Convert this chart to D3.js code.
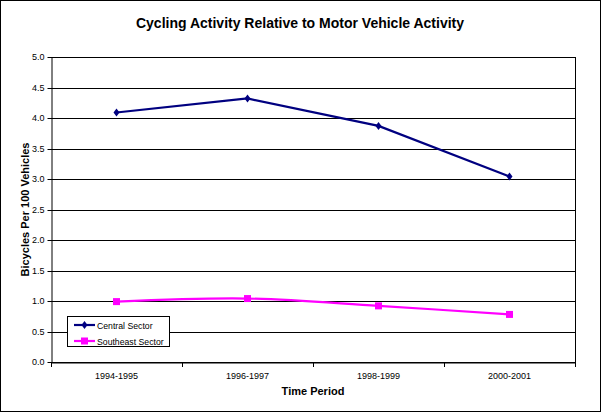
<!DOCTYPE html>
<html><head><meta charset="utf-8">
<script src="https://cdn.jsdelivr.net/npm/d3@7"></script>
<style>body{margin:0;background:#fff}svg{display:block;font-family:"Liberation Sans",Arial,sans-serif}</style>
</head><body>
<svg id="c" width="601" height="412"></svg>
<script>
const categories = ["1994-1995","1996-1997","1998-1999","2000-2001"];
const centralSector = [4.09, 4.32, 3.87, 3.04];
const southeastSector = [0.99, 1.04, 0.92, 0.78];
const yTicks = [0,0.5,1,1.5,2,2.5,3,3.5,4,4.5,5];
const seriesNames = ["Central Sector","Southeast Sector"];

const svg = d3.select("#c");
const m = {l:51, r:575, t:57, b:362};
svg.append("rect").attr("x",0.5).attr("y",0.5).attr("width",600).attr("height",411).attr("fill","#fff").attr("stroke","#000");

const x = d3.scaleBand().domain(categories).range([m.l,m.r]);
const y = d3.scaleLinear().domain([0,5]).range([m.b,m.t]);

// gridlines
svg.append("g").selectAll("line").data(yTicks).join("line")
  .attr("x1",m.l).attr("x2",m.r).attr("y1",d=>Math.round(y(d))+0.5).attr("y2",d=>Math.round(y(d))+0.5)
  .attr("stroke","#000").attr("stroke-width",1);
svg.append("line").attr("x1",m.r+0.5).attr("x2",m.r+0.5).attr("y1",m.t).attr("y2",m.b+0.5).attr("stroke","#000");

// y axis
const ya = svg.append("g").attr("transform",`translate(${m.l+0.5},0)`)
  .call(d3.axisLeft(y).tickValues(yTicks).tickFormat(d3.format(".1f")).tickSize(4).tickSizeOuter(0));
ya.selectAll("text").attr("font-size",9).attr("font-family","'Liberation Sans',Arial,sans-serif").attr("fill","#000");
ya.selectAll("line,path").attr("stroke","#000");
ya.selectAll(".tick").attr("transform",d=>`translate(0,${Math.round(y(d))+0.5})`);

// x axis
const xa = svg.append("g").attr("transform",`translate(0,${m.b+0.5})`)
  .call(d3.axisBottom(x).tickSize(0).tickSizeOuter(0));
xa.selectAll("text").attr("font-size",9).attr("font-family","'Liberation Sans',Arial,sans-serif").attr("fill","#000").attr("dy","1.5em");
xa.select("path").attr("stroke","#000");
svg.append("g").selectAll("line").data(categories).join("line")
  .attr("x1",d=>Math.round(x(d)+x.bandwidth())+0.5).attr("x2",d=>Math.round(x(d)+x.bandwidth())+0.5)
  .attr("y1",m.b).attr("y2",m.b+5).attr("stroke","#000");
svg.append("line").attr("x1",m.l+0.5).attr("x2",m.l+0.5).attr("y1",m.b).attr("y2",m.b+5).attr("stroke","#000");

const cx = d => x(d)+x.bandwidth()/2;

// lines
const line1 = d3.line().x((d,i)=>cx(categories[i])).y(d=>y(d));
const line2 = d3.line().x((d,i)=>cx(categories[i])).y(d=>y(d)).curve(d3.curveCatmullRom.alpha(0.5));
svg.append("path").attr("d",line1(centralSector)).attr("fill","none").attr("stroke","#000080").attr("stroke-width",2.2);
svg.append("path").attr("d",line2(southeastSector)).attr("fill","none").attr("stroke","#FF00FF").attr("stroke-width",2.2);

const diamond = (g,px,py)=> g.append("path").attr("d",`M${px},${py-4}L${px+3},${py}L${px},${py+4}L${px-3},${py}Z`).attr("fill","#000080");
const square = (g,px,py)=> g.append("rect").attr("x",px-3.5).attr("y",py-3.5).attr("width",7).attr("height",7).attr("fill","#FF00FF");
centralSector.forEach((v,i)=>diamond(svg,cx(categories[i]),y(v)));
southeastSector.forEach((v,i)=>square(svg,cx(categories[i]),y(v)));

// legend
const lg = svg.append("g");
lg.append("rect").attr("x",67.5).attr("y",316.5).attr("width",102).attr("height",30).attr("fill","#fff").attr("stroke","#000");
lg.append("line").attr("x1",74).attr("x2",95).attr("y1",325).attr("y2",325).attr("stroke","#000080").attr("stroke-width",2.2);
diamond(lg,84.5,325);
lg.append("line").attr("x1",74).attr("x2",95).attr("y1",341).attr("y2",341).attr("stroke","#FF00FF").attr("stroke-width",2.2);
square(lg,84.5,341);
lg.selectAll("text.l").data(seriesNames).join("text").attr("x",97).attr("y",(d,i)=>328.5+i*16)
  .attr("font-size",8.7).attr("fill","#000").text(d=>d);

// titles
svg.append("text").attr("x",300).attr("y",28).attr("text-anchor","middle").attr("font-size",14).attr("font-weight","bold")
  .text("Cycling Activity Relative to Motor Vehicle Activity");
svg.append("text").attr("x",(m.l+m.r)/2).attr("y",395).attr("text-anchor","middle").attr("font-size",11).attr("font-weight","bold")
  .text("Time Period");
svg.append("text").attr("transform",`translate(29,${(m.t+m.b)/2}) rotate(-90)`).attr("text-anchor","middle").attr("font-size",11).attr("font-weight","bold")
  .text("Bicycles Per 100 Vehicles");
</script>
</body></html>
